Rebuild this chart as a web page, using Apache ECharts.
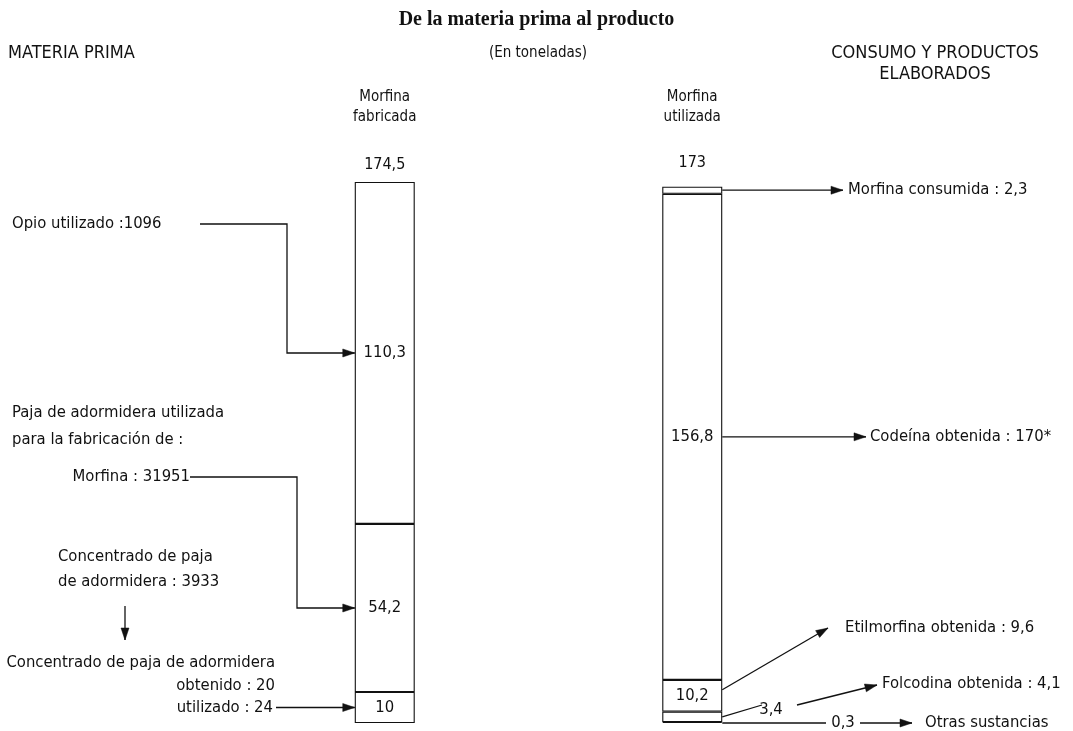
<!DOCTYPE html>
<html><head><meta charset="utf-8">
<script src="https://cdn.jsdelivr.net/npm/echarts@6/dist/echarts.min.js"></script>
<style>html,body{margin:0;padding:0;background:#fff}#c{width:1073px;height:731px}</style>
</head><body><div id="c"></div>
<script>
// ---- data (tonnes) ----
const barCategories = ['Morfina\nfabricada', 'Morfina\nutilizada'];
const fabricada = [10, 54.2, 110.3];                 // bottom -> top
const fabricadaLabels = ['10', '54,2', '110,3'];
const utilizada = [0.3, 3.4, 10.2, 156.8, 2.3];      // bottom -> top
const utilizadaLabels = ['', '', '10,2', '156,8', ''];
const totals = [174.5, 173];
const totalLabels = ['174,5', '173'];

const F = '"Liberation Sans Narrow","DejaVu Sans Condensed","Roboto Condensed",Roboto,sans-serif';
const INK = '#111';
const BAR_W = 60;

const chart = echarts.init(document.getElementById('c'), null, {renderer: 'canvas'});
const nSeries = Math.max(fabricada.length, utilizada.length);
const series = [];
for (let i = 0; i < nSeries; i++) {
  series.push({
    type: 'bar', stack: 'm', barWidth: BAR_W,
    data: [fabricada[i] !== undefined ? fabricada[i] : '-', utilizada[i] !== undefined ? utilizada[i] : '-'],
    itemStyle: {color: '#fff', borderColor: INK, borderWidth: 1.1},
    label: {
      show: true, position: 'inside', color: INK, fontFamily: F, fontSize: 16.5,
      formatter: p => (p.dataIndex === 0 ? fabricadaLabels[i] : utilizadaLabels[i]) || ''
    },
    silent: true
  });
}

chart.setOption({
  animation: false,
  backgroundColor: '#fff',
  title: {
    text: 'De la materia prima al producto', left: 'center', top: 5,
    textStyle: {fontFamily: '"Liberation Serif","DejaVu Serif",serif', fontWeight: 'bold', fontSize: 20, color: INK}
  },
  grid: {left: 231, width: 615, top: 182, bottom: 8},
  xAxis: {
    type: 'category', data: barCategories, position: 'top',
    axisLine: {show: false}, axisTick: {show: false},
    axisLabel: {margin: 55, fontFamily: F, fontSize: 15, lineHeight: 20, color: INK}
  },
  yAxis: {type: 'value', min: 0, max: totals[0], show: false, splitLine: {show: false}},
  series: series
});

// ---- annotations anchored to data positions ----
const px = (c, v) => chart.convertToPixel({gridIndex: 0}, [c, v]);
function mids(arr) { let s = 0; return arr.map(v => { const m = s + v / 2; s += v; return m; }); }
const fMid = mids(fabricada), uMid = mids(utilizada);
const lx = px(0, 0)[0], rx = px(1, 0)[0];
const lEdge = lx - BAR_W / 2, rEdge = rx + BAR_W / 2;
const yF = fMid.map(m => px(0, m)[1]);
const yU = uMid.map(m => px(1, m)[1]);
const yBottom = px(1, 0)[1];

const g = [];
function txt(t, x, y, align, size, extra) {
  g.push(Object.assign({type: 'text', silent: true, style: {
    text: t, x: x, y: y, align: align || 'left', verticalAlign: 'middle',
    textAlign: align || 'left', textVerticalAlign: 'middle',
    font: (size || 16.5) + 'px ' + F, fill: INK}}, extra || {}));
}
function line(pts, head) {
  g.push({type: 'polyline', silent: true, shape: {points: pts}, style: {stroke: INK, lineWidth: 1.3, fill: null}});
  if (head) {
    const a = pts[pts.length - 2], b = pts[pts.length - 1];
    const dx = b[0] - a[0], dy = b[1] - a[1], L = Math.hypot(dx, dy);
    const ux = dx / L, uy = dy / L, len = 12, w = 4;
    const bx = b[0] - ux * len, by = b[1] - uy * len;
    g.push({type: 'polygon', silent: true, shape: {points: [b, [bx - uy * w, by + ux * w], [bx + uy * w, by - ux * w]]},
      style: {fill: INK, stroke: INK, lineWidth: 0.5}});
  }
}

// headers
txt('MATERIA PRIMA', 8, 53, 'left', 18);
txt('(En toneladas)', 538, 53, 'center', 15);
txt('CONSUMO Y PRODUCTOS', 935, 53, 'center', 18);
txt('ELABORADOS', 935, 74, 'center', 18);
// totals above bars
const gTop = px(0, totals[0])[1];
txt(totalLabels[0], lx, gTop - 17, 'center', 16);
txt(totalLabels[1], rx, gTop - 19, 'center', 16);

// left side
txt('Opio utilizado :1096', 12, 224, 'left');
line([[200, 224], [287, 224], [287, yF[2]], [lEdge, yF[2]]], true);
txt('Paja de adormidera utilizada', 12, 413, 'left');
txt('para la fabricación de :', 12, 440, 'left');
txt('Morfina : 31951', 190, 477, 'right');
line([[190, 477], [297, 477], [297, yF[1]], [lEdge, yF[1]]], true);
txt('Concentrado de paja', 58, 557, 'left');
txt('de adormidera : 3933', 58, 582, 'left');
line([[125, 606], [125, 640]], true);
txt('Concentrado de paja de adormidera', 275, 663, 'right');
txt('obtenido : 20', 275, 686, 'right');
txt('utilizado : 24', 273, yF[0], 'right');
line([[276, yF[0]], [lEdge, yF[0]]], true);

// right side
line([[rEdge, yU[4]], [843, yU[4]]], true);
txt('Morfina consumida : 2,3', 848, yU[4], 'left');
line([[rEdge, yU[3]], [866, yU[3]]], true);
txt('Codeína obtenida : 170*', 870, yU[3], 'left');
line([[rEdge, yU[2] - 6], [828, 628]], true);
txt('Etilmorfina obtenida : 9,6', 845, 628, 'left');
line([[rEdge, yU[1]], [762, 705]], false);
txt('3,4', 771, 710, 'center');
line([[797, 705], [877, 685]], true);
txt('Folcodina obtenida : 4,1', 882, 684, 'left');
line([[rEdge, yBottom], [826, yBottom]], false);
txt('0,3', 843, yBottom, 'center');
line([[860, yBottom], [912, yBottom]], true);
txt('Otras sustancias', 925, yBottom, 'left');

chart.setOption({graphic: {elements: g}});
</script></body></html>
